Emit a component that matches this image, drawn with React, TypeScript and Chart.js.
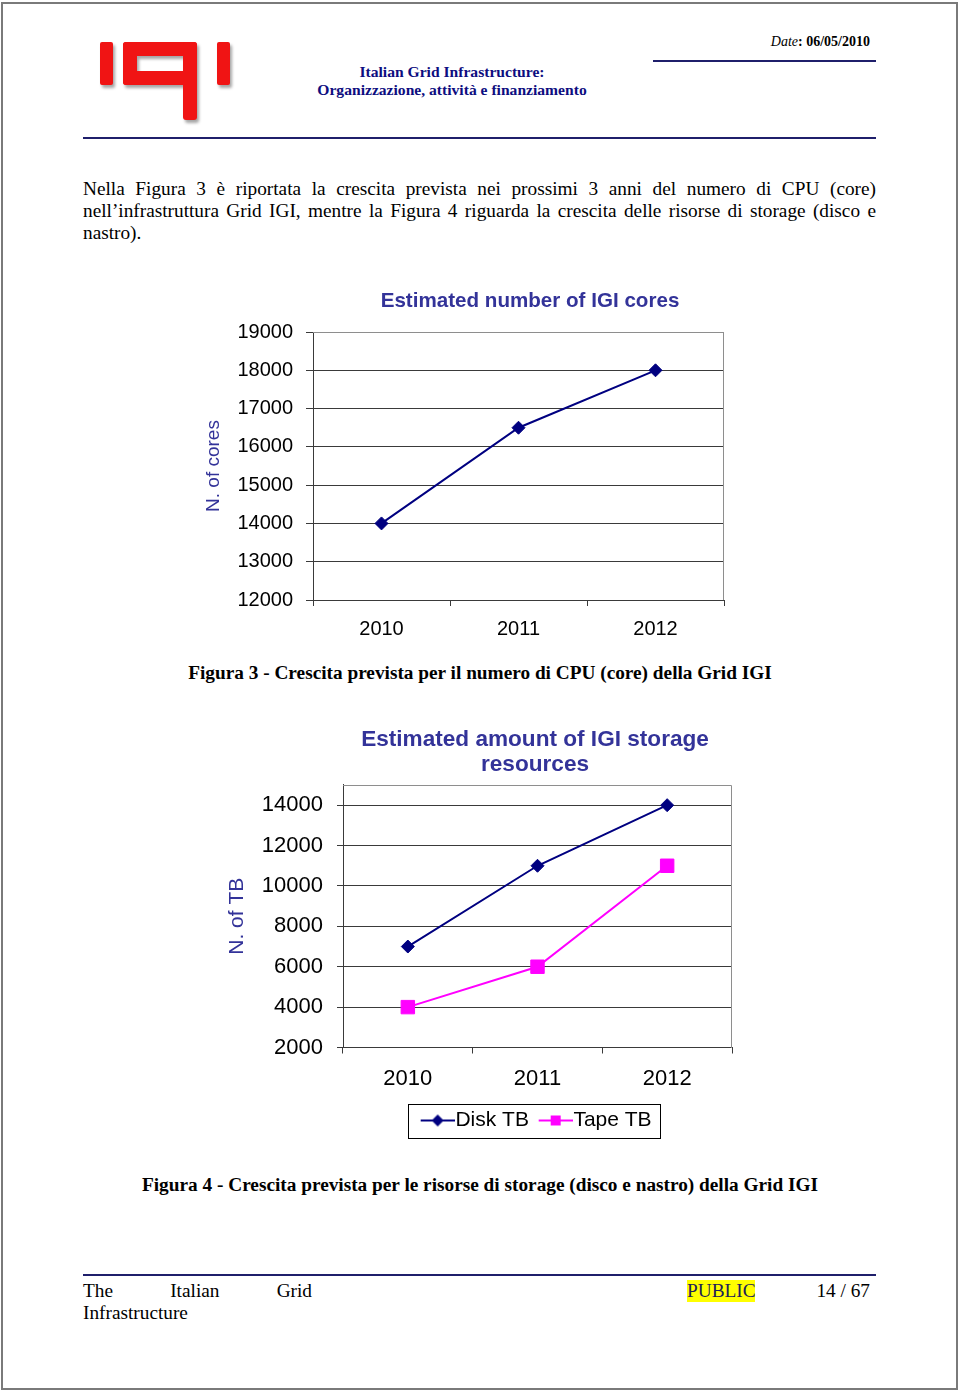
import React, { useEffect, useRef } from 'react';
import { Chart, registerables } from 'chart.js';

Chart.register(...registerables);
Chart.defaults.font.family = "'Liberation Sans', Arial, sans-serif";

// ---------- data ----------
const years = ['2010', '2011', '2012'];

const coresTitle = 'Estimated number of IGI cores';
const coresAxisTitle = 'N. of cores';
const coresValues = [14000, 16500, 18000];
const coresTicks = [12000, 13000, 14000, 15000, 16000, 17000, 18000, 19000];
const coresMin = 12000;
const coresMax = 19000;

const storageTitle = ['Estimated amount of IGI storage', 'resources'];
const storageAxisTitle = 'N. of TB';
const diskLabel = 'Disk TB';
const tapeLabel = 'Tape TB';
const diskValues = [7000, 11000, 14000];
const tapeValues = [4000, 6000, 11000];
const storageTicks = [2000, 4000, 6000, 8000, 10000, 12000, 14000];
const storageMin = 2000;
const storageMax = 15000;

const bodyLines = [
  'Nella Figura 3 è riportata la crescita prevista nei prossimi 3 anni del numero di CPU (core)',
  'nell’infrastruttura Grid IGI, mentre la Figura 4 riguarda la crescita delle risorse di storage (disco e',
  'nastro).',
];
const caption3 = 'Figura 3 - Crescita prevista per il numero di CPU (core) della Grid IGI';
const caption4 = 'Figura 4 - Crescita prevista per le risorse di storage (disco e nastro) della Grid IGI';

// ---------- styles ----------
const NAVY = '#000080';
const MAGENTA = '#ff00ff';
const TITLE_BLUE = '#333399';
const GRID = '#3a3a3a';
const FRAME = '#8e8e8e';
const RULE = '#1f1f6b';
const SERIF = "'Liberation Serif', 'Times New Roman', serif";

const plotFrame = {
  id: 'plotFrame',
  beforeDatasetsDraw(chart: any) {
    const { ctx, chartArea } = chart;
    const { left, top, right, bottom } = chartArea;
    ctx.save();
    ctx.strokeStyle = FRAME;
    ctx.lineWidth = 1;
    ctx.beginPath();
    ctx.moveTo(Math.round(left), Math.round(top) + 0.5);
    ctx.lineTo(Math.round(right) - 0.5, Math.round(top) + 0.5);
    ctx.lineTo(Math.round(right) - 0.5, Math.round(bottom));
    ctx.stroke();
    ctx.restore();
  },
};

const legendFrame = {
  id: 'legendFrame',
  afterDraw(chart: any) {
    const lg = chart.legend;
    if (!lg || !lg.options.display || !lg.legendHitBoxes || !lg.legendHitBoxes.length) return;
    const hb = lg.legendHitBoxes;
    const first = hb[0];
    const last = hb[hb.length - 1];
    const x0 = Math.round(first.left - 10) + 0.5;
    const x1 = Math.round(last.left + last.width + 8) + 0.5;
    const y0 = Math.round(first.top - 6.5) + 0.5;
    const y1 = Math.round(first.top + 27.5) + 0.5;
    const ctx = chart.ctx;
    ctx.save();
    ctx.strokeStyle = '#000';
    ctx.lineWidth = 1;
    ctx.strokeRect(x0, y0, x1 - x0, y1 - y0);
    ctx.restore();
  },
};

// legend icon: line with marker, drawn in the right part of the image
function makeIcon(color: string, kind: 'diamond' | 'square') {
  const c = document.createElement('canvas');
  c.width = 46;
  c.height = 14;
  const g = c.getContext('2d')!;
  g.strokeStyle = color;
  g.fillStyle = color;
  g.lineWidth = 2;
  g.beginPath();
  g.moveTo(12, 7);
  g.lineTo(46, 7);
  g.stroke();
  const cx = 29;
  if (kind === 'diamond') {
    g.beginPath();
    g.moveTo(cx, 1);
    g.lineTo(cx + 6, 7);
    g.lineTo(cx, 13);
    g.lineTo(cx - 6, 7);
    g.closePath();
    g.fill();
  } else {
    g.fillRect(cx - 5, 2, 10, 10);
  }
  return c;
}

function coresConfig(): any {
  return {
    type: 'line',
    data: {
      labels: years,
      datasets: [
        {
          label: coresAxisTitle,
          data: coresValues,
          borderColor: NAVY,
          backgroundColor: NAVY,
          borderWidth: 2,
          pointStyle: 'rectRot',
          pointRadius: 6.5,
          pointBorderWidth: 1,
          pointBackgroundColor: NAVY,
          pointBorderColor: NAVY,
          tension: 0,
        },
      ],
    },
    options: {
      animation: false,
      responsive: true,
      maintainAspectRatio: false,
      layout: { padding: 0 },
      plugins: {
        legend: { display: false },
        tooltip: { enabled: false },
        title: {
          display: true,
          text: coresTitle,
          color: TITLE_BLUE,
          font: { size: 20.6, weight: 'bold', lineHeight: 1.2 },
          padding: { top: 8.6, bottom: 18.7 },
        },
      },
      scales: {
        x: {
          type: 'category',
          offset: true,
          grid: { offset: true, drawOnChartArea: false, drawTicks: true, tickLength: 6, color: GRID },
          border: { color: GRID },
          ticks: { color: '#000', font: { size: 20 }, padding: 11 },
          afterFit: (s: any) => { s.height = 50; },
        },
        y: {
          type: 'linear',
          min: coresMin,
          max: coresMax,
          afterBuildTicks: (s: any) => { s.ticks = coresTicks.map((v) => ({ value: v })); },
          grid: {
            color: (c: any) => (c.tick && c.tick.value === coresMax ? FRAME : GRID),
            tickColor: GRID,
            tickLength: 7,
          },
          border: { color: GRID },
          ticks: { color: '#000', font: { size: 20 }, padding: 13, callback: (v: any) => String(v) },
          title: { display: true, text: coresAxisTitle, color: TITLE_BLUE, font: { size: 19 }, padding: { top: 2.6, bottom: 0 } },
          afterFit: (s: any) => { s.width = 113; },
        },
        pad: {
          type: 'linear',
          position: 'right',
          display: true,
          grid: { display: false },
          ticks: { display: false },
          border: { display: false },
          afterFit: (s: any) => { s.width = 136; },
        },
      },
    },
    plugins: [plotFrame],
  };
}

function storageConfig(): any {
  const icons = [makeIcon(NAVY, 'diamond'), makeIcon(MAGENTA, 'square')];
  return {
    type: 'line',
    data: {
      labels: years,
      datasets: [
        {
          label: diskLabel,
          data: diskValues,
          borderColor: NAVY,
          backgroundColor: NAVY,
          borderWidth: 2,
          pointStyle: 'rectRot',
          pointRadius: 6.5,
          pointBorderWidth: 1,
          pointBackgroundColor: NAVY,
          pointBorderColor: NAVY,
          tension: 0,
        },
        {
          label: tapeLabel,
          data: tapeValues,
          borderColor: MAGENTA,
          backgroundColor: MAGENTA,
          borderWidth: 2,
          pointStyle: 'rect',
          pointRadius: 9.5,
          pointBorderWidth: 1,
          pointBackgroundColor: MAGENTA,
          pointBorderColor: MAGENTA,
          tension: 0,
        },
      ],
    },
    options: {
      animation: false,
      responsive: true,
      maintainAspectRatio: false,
      layout: { padding: 0 },
      plugins: {
        tooltip: { enabled: false },
        title: {
          display: true,
          text: storageTitle,
          color: TITLE_BLUE,
          font: { size: 22.6, weight: 'bold', lineHeight: 1.106 },
          padding: { top: 7.5, bottom: 7.5 },
        },
        legend: {
          display: true,
          position: 'bottom',
          labels: {
            usePointStyle: true,
            pointStyleWidth: 26.5,
            color: '#000',
            font: { size: 21 },
            padding: 7.5,
            generateLabels: (chart: any) => {
              const items = (Chart.defaults.plugins.legend.labels as any).generateLabels(chart);
              items.forEach((it: any, i: number) => {
                it.pointStyle = icons[i];
                it.fontColor = '#000';
              });
              return items;
            },
          },
        },
      },
      scales: {
        x: {
          type: 'category',
          offset: true,
          grid: { offset: true, drawOnChartArea: false, drawTicks: true, tickLength: 6, color: GRID },
          border: { color: GRID },
          ticks: { color: '#000', font: { size: 22 }, padding: 11.8 },
          afterFit: (s: any) => { s.height = 55; },
        },
        y: {
          type: 'linear',
          min: storageMin,
          max: storageMax,
          afterBuildTicks: (s: any) => { s.ticks = storageTicks.map((v) => ({ value: v })); },
          grid: { color: GRID, tickColor: GRID, tickLength: 6 },
          border: { color: GRID },
          ticks: { color: '#000', font: { size: 22 }, padding: 14, callback: (v: any) => String(v) },
          title: { display: true, text: storageAxisTitle, color: TITLE_BLUE, font: { size: 21 }, padding: { top: 24.4, bottom: 0 } },
          afterFit: (s: any) => { s.width = 143; },
        },
        pad: {
          type: 'linear',
          position: 'right',
          display: true,
          grid: { display: false },
          ticks: { display: false },
          border: { display: false },
          afterFit: (s: any) => { s.width = 138; },
        },
      },
    },
    plugins: [plotFrame, legendFrame],
  };
}

function ChartBox({ make, left, top, width, height }: any) {
  const ref = useRef<HTMLCanvasElement>(null);
  useEffect(() => {
    const chart = new Chart(ref.current!, make());
    return () => chart.destroy();
  }, [make]);
  return (
    <div style={{ position: 'absolute', left, top, width, height }}>
      <canvas ref={ref} />
    </div>
  );
}

function Abs({ left, top, width, children, style }: any) {
  return (
    <div style={{ position: 'absolute', left, top, width, ...style }}>{children}</div>
  );
}

function Logo() {
  const red = '#f01414';
  const r = (l: number, t: number, w: number, h: number, br = 2) => (
    <div style={{ position: 'absolute', left: l, top: t, width: w, height: h, background: red, borderRadius: br }} />
  );
  return (
    <div style={{ position: 'absolute', left: 0, top: 0, width: 960, height: 140, filter: 'drop-shadow(2px 3px 1.5px rgba(0,0,0,0.35))' }}>
      {r(100, 42, 13, 43)}
      {r(123, 42, 74, 14, 3)}
      {r(123, 42, 14, 43, 3)}
      {r(123, 71, 74, 14, 3)}
      {r(183, 42, 14, 78, 3)}
      {r(217, 42, 13, 43)}
    </div>
  );
}

export default function App() {
  const bodyFont = { fontFamily: SERIF, fontSize: 19.3, lineHeight: '22px', color: '#000', whiteSpace: 'nowrap' as const };
  return (
    <div style={{ position: 'absolute', left: 0, top: 0, width: 960, height: 1392, background: '#fff', overflow: 'hidden' }}>
      {/* page frame */}
      <div style={{ position: 'absolute', left: 1, top: 2, width: 957, height: 1388, border: '2px solid #7a7a7a', boxSizing: 'border-box' }} />

      <Logo />

      {/* header */}
      <Abs left={653} top={33.8} width={217} style={{ fontFamily: SERIF, fontSize: 14, lineHeight: '16px', textAlign: 'right', whiteSpace: 'nowrap', color: '#000' }}>
        <i>Date</i><b>: 06/05/2010</b>
      </Abs>
      <div style={{ position: 'absolute', left: 653, top: 60, width: 223, height: 2, background: RULE }} />
      <Abs left={252} top={62.7} width={400} style={{ fontFamily: SERIF, fontSize: 15.6, lineHeight: '18px', fontWeight: 'bold', textAlign: 'center', color: '#0d0d80', whiteSpace: 'nowrap' }}>
        <div>Italian Grid Infrastructure:</div>
        <div>Organizzazione, attività e finanziamento</div>
      </Abs>
      <div style={{ position: 'absolute', left: 83, top: 137, width: 793, height: 2, background: RULE }} />

      {/* body text */}
      <Abs left={83} top={178} width={793} style={bodyFont}>
        {bodyLines.map((t, i) => (
          <div key={i} style={{ textAlign: 'justify', textAlignLast: i < bodyLines.length - 1 ? 'justify' : 'left' }}>{t}</div>
        ))}
      </Abs>

      {/* chart 1 */}
      <ChartBox make={coresConfig} left={200} top={280} width={660} height={370} />
      <Abs left={80} top={662} width={800} style={{ ...bodyFont, fontWeight: 'bold', textAlign: 'center' }}>{caption3}</Abs>

      {/* chart 2 */}
      <ChartBox make={storageConfig} left={200} top={720} width={670} height={421} />
      <Abs left={80} top={1174} width={800} style={{ ...bodyFont, fontWeight: 'bold', textAlign: 'center' }}>{caption4}</Abs>

      {/* footer */}
      <div style={{ position: 'absolute', left: 83, top: 1274, width: 793, height: 2, background: RULE }} />
      <Abs left={83} top={1279.5} width={229} style={bodyFont}>
        <div style={{ textAlign: 'justify', textAlignLast: 'justify' }}>The Italian Grid</div>
        <div>Infrastructure</div>
      </Abs>
      <Abs left={687} top={1279.5} width={68} style={{ ...bodyFont, background: '#ffff00', color: '#20205a', textAlign: 'center' }}>PUBLIC</Abs>
      <Abs left={770} top={1279.5} width={100} style={{ ...bodyFont, textAlign: 'right' }}>14 / 67</Abs>
    </div>
  );
}
